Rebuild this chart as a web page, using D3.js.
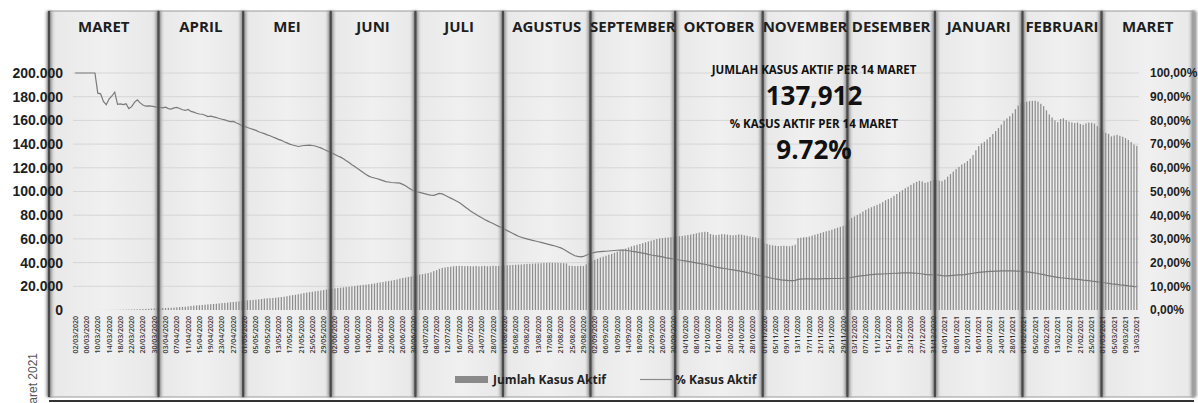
<!DOCTYPE html>
<html lang="en">
<head>
<meta charset="utf-8">
<title>Kasus Aktif</title>
<script src="https://d3js.org/d3.v7.min.js"></script>
<style>
  body { margin: 0; background: #fff; }
  svg { display: block; font-family: "Open Sans", sans-serif; }
  .axis path, .axis line { display: none; }
  .axis text { font-weight: 700; fill: #1e1e1e; }
  .grid line { stroke: #d6d6d6; stroke-width: 1; }
</style>
</head>
<body>
<script>
// first day of the series
var startDate = new Date(2020, 2, 2);

var monthNames = ["MARET", "APRIL", "MEI", "JUNI", "JULI", "AGUSTUS", "SEPTEMBER",
  "OKTOBER", "NOVEMBER", "DESEMBER", "JANUARI", "FEBRUARI", "MARET"];

// jumlah kasus aktif per hari
var activeMar20 = [2,2,2,2,4,4,6,19,27,31,30,60,83,104,121,158,197,265,312,380,437,500,601,701,780,913,994,1107,1217,1311];
var activeApr20 = [1490,1600,1700,1790,1860,2070,2240,2450,2600,2800,3050,3400,3650,3850,4050,4270,4500,4750,4900,5080,5300,5550,5830,6020,6290,6550,6750,6950,7280,7600];
var activeMay20 = [7950,8150,8350,8500,8700,9000,9300,9650,9850,10000,10150,10400,10650,10950,11200,11650,12200,12550,12850,13300,13800,14300,14700,15050,15400,15750,16100,16450,16850,17200,17550];
var activeJun20 = [17900,18200,18500,18800,19100,19400,19600,19900,20200,20600,20900,21200,21400,21700,22100,22400,22900,23300,23600,24100,24500,24800,25300,25800,26500,27000,27400,27900,28300,28700];
var activeJul20 = [29300,29900,30300,30700,31200,31800,32800,33600,34700,35500,35900,36300,36600,36900,37100,37300,37200,37000,37100,37000,36900,37100,36800,37000,37200,36900,37000,37300,37100,37200,37300];
var activeAug20 = [37500,37700,37900,38000,38200,38300,38400,38700,38900,39000,39100,39300,39400,39500,39600,39700,39800,39900,39800,39700,39600,39500,39300,37400,37200,37100,37000,37300,37100,38500,40600];
var activeSep20 = [41400,42300,43300,44200,45000,45800,46700,47400,48300,49200,50200,51000,51900,52800,53700,54400,55000,55700,56400,57100,57800,58500,59200,59900,60400,60700,61000,61200,61400,61700];
var activeOct20 = [62000,62300,62500,62900,63300,63700,64200,64700,65300,65700,66000,65800,64200,63500,63200,63600,64000,63900,63600,63200,63000,63300,63800,63600,63000,62600,62100,61600,61200,60500,59800];
var activeNov20 = [56700,55800,55000,54500,54300,54000,54100,54200,54000,53800,54300,55100,60500,61000,61300,61500,62000,62800,63500,64200,65000,65700,66400,67000,67800,68600,69400,70200,71000,71700];
var activeDec20 = [75400,77700,79000,80100,81400,83000,84500,85700,86700,87700,88700,89800,91000,92600,93600,94600,96300,97900,99500,101100,102800,104000,105600,107000,108200,109000,108500,107300,107900,108900,109900];
var activeJan21 = [110000,109200,108700,110000,112500,114700,116800,118900,120800,122800,123900,125700,127700,130800,134800,138300,140600,142000,144000,146000,148500,151000,153500,156500,159600,161700,163500,166000,169500,172500,175000];
var activeFeb21 = [175300,175800,176300,176500,176600,175900,174000,172000,168500,165000,162500,160000,158500,161200,161800,160200,159000,158300,157800,158200,157000,156300,157500,158100,158000,157300,155200,153800];
var activeMar21 = [151000,149500,148600,146500,147200,147800,147000,146200,145000,143500,141800,139600,138500];

// % kasus aktif per hari
var pctMar20 = [100,100,100,100,100,100,100,100,91.5,91.2,88.0,86.6,89.0,90.3,91.9,86.8,87.0,86.7,87.0,85.0,85.8,87.6,88.7,87.4,86.5,86.0,86.1,86.0,85.8,85.6];
var pctApr20 = [85.5,85.3,85.6,85.0,84.8,85.3,85.5,85.0,84.5,84.2,84.6,83.8,83.5,83.0,82.7,82.6,82.2,81.6,81.8,81.5,81.2,80.8,80.5,80.2,79.8,79.5,79.6,79.0,78.5,77.8];
var pctMay20 = [77.5,77.0,76.6,76.2,75.8,75.2,74.8,74.4,73.9,73.5,73.0,72.5,72.0,71.6,71.0,70.5,70.0,69.6,69.3,69.0,69.2,69.4,69.5,69.6,69.4,69.2,68.8,68.4,67.8,67.3,66.7];
var pctJun20 = [66.2,65.6,65.0,64.5,63.8,63.0,62.2,61.3,60.5,59.7,58.9,58.0,57.2,56.5,56.0,55.7,55.4,55.0,54.6,54.2,54.0,53.8,53.7,53.6,53.5,53.0,52.4,51.6,50.8,50.2];
var pctJul20 = [49.9,49.6,49.3,49.0,48.7,48.5,48.4,48.8,49.2,49.0,48.4,47.8,47.2,46.6,46.0,45.4,44.5,43.6,42.7,41.8,41.0,40.3,39.6,38.9,38.2,37.6,37.0,36.5,35.9,35.3,34.8];
var pctAug20 = [34.2,33.5,32.9,32.3,31.7,31.1,30.7,30.3,30.0,29.7,29.4,29.1,28.8,28.5,28.2,27.9,27.6,27.3,27.0,26.6,26.2,25.6,24.9,24.2,23.5,22.9,22.6,22.4,22.6,23.1,23.6];
var pctSep20 = [24.0,24.3,24.5,24.6,24.7,24.8,24.9,25.0,25.1,25.2,25.3,25.3,25.2,25.0,24.8,24.6,24.4,24.2,24.0,23.8,23.5,23.2,23.0,22.8,22.6,22.4,22.1,21.9,21.7,21.5];
var pctOct20 = [21.3,21.1,20.9,20.7,20.5,20.3,20.1,19.9,19.7,19.5,19.3,19.0,18.7,18.4,18.1,17.9,17.7,17.5,17.3,17.1,16.9,16.7,16.5,16.3,16.1,15.8,15.5,15.2,14.9,14.6,14.4];
var pctNov20 = [14.2,13.9,13.6,13.3,13.1,12.9,12.7,12.6,12.5,12.4,12.4,12.5,12.9,13.0,13.1,13.1,13.1,13.1,13.1,13.1,13.1,13.2,13.2,13.2,13.3,13.3,13.3,13.3,13.4,13.4];
var pctDec20 = [13.6,13.8,14.0,14.2,14.4,14.5,14.6,14.8,14.9,15.0,15.1,15.1,15.2,15.3,15.3,15.4,15.5,15.5,15.6,15.7,15.7,15.7,15.7,15.6,15.5,15.4,15.2,15.0,14.9,14.8,14.8];
var pctJan21 = [14.8,14.7,14.5,14.4,14.4,14.5,14.6,14.7,14.8,14.8,14.9,15.1,15.3,15.5,15.7,15.9,16.0,16.1,16.2,16.3,16.3,16.4,16.4,16.5,16.5,16.5,16.5,16.5,16.4,16.4,16.3];
var pctFeb21 = [16.2,16.1,16.0,15.8,15.6,15.4,15.1,14.9,14.6,14.4,14.2,14.0,13.8,13.6,13.5,13.4,13.2,13.1,13.0,12.9,12.8,12.6,12.5,12.4,12.2,12.1,11.9,11.8];
var pctMar21 = [11.6,11.4,11.2,11.0,10.9,10.8,10.6,10.5,10.4,10.2,10.1,9.9,9.8];

var leftTicks = [0, 20000, 40000, 60000, 80000, 100000, 120000, 140000, 160000, 180000, 200000];
var rightTicks = [0, 10, 20, 30, 40, 50, 60, 70, 80, 90, 100];

var noteTitle1 = "JUMLAH KASUS AKTIF PER 14 MARET", noteValue1 = "137,912";
var noteTitle2 = "% KASUS AKTIF PER 14 MARET", noteValue2 = "9.72%";
var legendBar = "Jumlah Kasus Aktif", legendLine = "% Kasus Aktif";
var sideNote = "Data per 14 Maret 2021";

var active = [].concat(activeMar20, activeApr20, activeMay20, activeJun20, activeJul20, activeAug20,
  activeSep20, activeOct20, activeNov20, activeDec20, activeJan21, activeFeb21, activeMar21);
var pct = [].concat(pctMar20, pctApr20, pctMay20, pctJun20, pctJul20, pctAug20,
  pctSep20, pctOct20, pctNov20, pctDec20, pctJan21, pctFeb21, pctMar21);

var n = active.length;
var dates = d3.timeDay.range(startDate, d3.timeDay.offset(startDate, n));
var data = dates.map(function(d, i) { return {i: i, date: d, active: active[i], pct: pct[i]}; });

var width = 1198, height = 403;
var plotLeft = 73, plotRight = 1139, plotTop = 73, plotBottom = 310;
var bandLeft = 49, bandRight = 1194, bandTop = 11, bandBottom = 397;

var svg = d3.select("body").append("svg")
  .attr("width", width)
  .attr("height", height);

var defs = svg.append("defs");
var grad = defs.append("linearGradient").attr("id", "bandGrad")
  .attr("x1", "0%").attr("x2", "100%").attr("y1", "0%").attr("y2", "0%");
grad.append("stop").attr("offset", "0%").attr("stop-color", "#d9d9d9");
grad.append("stop").attr("offset", "7%").attr("stop-color", "#e9e9e9");
grad.append("stop").attr("offset", "50%").attr("stop-color", "#f0f0f0");
grad.append("stop").attr("offset", "93%").attr("stop-color", "#e9e9e9");
grad.append("stop").attr("offset", "100%").attr("stop-color", "#d9d9d9");
defs.append("filter").attr("id", "soft")
  .attr("x", "-50%").attr("width", "200%")
  .append("feGaussianBlur").attr("stdDeviation", 1.6);

var x = d3.scaleBand()
  .domain(d3.range(n))
  .range([plotLeft, plotRight])
  .padding(0.55);

var y = d3.scaleLinear().domain([0, 200000]).range([plotBottom, plotTop]);
var yPct = d3.scaleLinear().domain([0, 100]).range([plotBottom, plotTop]);

// edge of a day slot (between day i-1 and day i)
function edge(i) { return x(i) - x.step() * x.paddingInner() / 2; }

// month bands
var monthStarts = d3.timeMonth.range(d3.timeMonth.ceil(startDate), dates[n - 1]);
var edges = [bandLeft].concat(monthStarts.map(function(d) {
  return edge(d3.timeDay.count(startDate, d));
}), [bandRight]);
var bands = monthNames.map(function(m, i) { return {name: m, x0: edges[i], x1: edges[i + 1]}; });

svg.append("g").selectAll("rect")
  .data(bands)
  .enter().append("rect")
  .attr("x", function(d) { return d.x0; })
  .attr("y", bandTop)
  .attr("width", function(d) { return d.x1 - d.x0; })
  .attr("height", bandBottom - bandTop)
  .attr("fill", "url(#bandGrad)")
  .attr("stroke", "#9a9a9a")
  .attr("stroke-width", 1);

// grid
svg.append("g").attr("class", "grid")
  .selectAll("line")
  .data(leftTicks.slice(1))
  .enter().append("line")
  .attr("x1", plotLeft).attr("x2", plotRight)
  .attr("y1", function(d) { return y(d); })
  .attr("y2", function(d) { return y(d); });

// bars
svg.append("g").selectAll("rect")
  .data(data)
  .enter().append("rect")
  .attr("x", function(d) { return x(d.i); })
  .attr("y", function(d) { return y(d.active); })
  .attr("width", x.bandwidth())
  .attr("height", function(d) { return y(0) - y(d.active); })
  .attr("fill", "#8e8e8e");

// % line
var line = d3.line()
  .x(function(d) { return x(d.i) + x.bandwidth() / 2; })
  .y(function(d) { return yPct(d.pct); });

svg.append("path")
  .datum(data)
  .attr("d", line)
  .attr("fill", "none")
  .attr("stroke", "#7a7a7a")
  .attr("stroke-width", 1.2);

// band dividers with a soft shadow
var dividers = svg.append("g");
dividers.append("g").attr("filter", "url(#soft)")
  .selectAll("line").data(edges).enter().append("line")
  .attr("x1", function(d) { return d; }).attr("x2", function(d) { return d; })
  .attr("y1", bandTop).attr("y2", bandBottom)
  .attr("stroke", "#8a8a8a").attr("stroke-width", 5);
dividers.append("g")
  .selectAll("line").data(edges).enter().append("line")
  .attr("x1", function(d) { return d; }).attr("x2", function(d) { return d; })
  .attr("y1", bandTop).attr("y2", bandBottom)
  .attr("stroke", function(d, i) { return i === edges.length - 1 ? "#b0b0b0" : "#4a4a4a"; })
  .attr("stroke-width", function(d, i) { return i === edges.length - 1 ? 1 : 2.2; });

// month headers
svg.append("g").selectAll("text")
  .data(bands)
  .enter().append("text")
  .attr("x", function(d) { return (d.x0 + d.x1) / 2; })
  .attr("y", 32)
  .attr("text-anchor", "middle")
  .style("font-size", "15px")
  .style("font-weight", 700)
  .style("fill", "#1e1e1e")
  .text(function(d) { return d.name; });

// axes
var idLocale = d3.formatLocale({decimal: ",", thousands: ".", grouping: [3], currency: ["", ""]});
var fmtLeft = idLocale.format(",");
var fmtRight = idLocale.format(",.2f");

svg.append("g")
  .attr("class", "axis")
  .attr("transform", "translate(" + plotLeft + ",0)")
  .call(d3.axisLeft(y).tickValues(leftTicks).tickSize(0).tickPadding(10).tickFormat(fmtLeft))
  .selectAll("text").style("font-size", "14px");

svg.append("g")
  .attr("class", "axis")
  .attr("transform", "translate(" + plotRight + ",0)")
  .call(d3.axisRight(yPct).tickValues(rightTicks).tickSize(0).tickPadding(11)
    .tickFormat(function(d) { return fmtRight(d) + "%"; }))
  .selectAll("text").style("font-size", "12px");

// date labels every 4 days
var fmtDate = d3.timeFormat("%d/%m/%Y");
svg.append("g").selectAll("text")
  .data(data.filter(function(d) { return d.i % 4 === 0; }))
  .enter().append("text")
  .attr("transform", function(d) {
    return "translate(" + (x(d.i) + x.bandwidth() / 2) + ",316) rotate(-90)";
  })
  .attr("dy", "0.35em")
  .attr("text-anchor", "end")
  .style("font-size", "7px")
  .style("font-weight", 600)
  .style("fill", "#333")
  .text(function(d) { return fmtDate(d.date); });

// notes
var noteX = 814;
var notes = svg.append("g").attr("text-anchor", "middle").style("fill", "#111").style("font-weight", 700);
notes.append("text").attr("x", noteX).attr("y", 74).style("font-size", "11.5px").text(noteTitle1);
notes.append("text").attr("x", noteX).attr("y", 105).style("font-size", "26px").text(noteValue1);
notes.append("text").attr("x", noteX).attr("y", 128).style("font-size", "11.5px").text(noteTitle2);
notes.append("text").attr("x", noteX).attr("y", 159).style("font-size", "26px").text(noteValue2);

// legend
var legend = svg.append("g").style("font-size", "12px").style("font-weight", 700).style("fill", "#222");
legend.append("rect").attr("x", 455).attr("y", 376).attr("width", 33).attr("height", 7).attr("fill", "#8a8a8a");
legend.append("text").attr("x", 493).attr("y", 384).text(legendBar);
legend.append("line").attr("x1", 640).attr("x2", 672).attr("y1", 379.5).attr("y2", 379.5)
  .attr("stroke", "#8a8a8a").attr("stroke-width", 1.2);
legend.append("text").attr("x", 675).attr("y", 384).text(legendLine);

// side note, cut off at the bottom
svg.append("text")
  .attr("transform", "translate(37,353) rotate(-90)")
  .attr("text-anchor", "end")
  .style("font-size", "12px")
  .style("font-family", "Liberation Sans, sans-serif")
  .style("fill", "#555")
  .text(sideNote);

// top of the table below
svg.append("line")
  .attr("x1", bandLeft).attr("x2", bandRight)
  .attr("y1", 401).attr("y2", 401)
  .attr("stroke", "#333").attr("stroke-width", 2);
</script>
</body>
</html>
